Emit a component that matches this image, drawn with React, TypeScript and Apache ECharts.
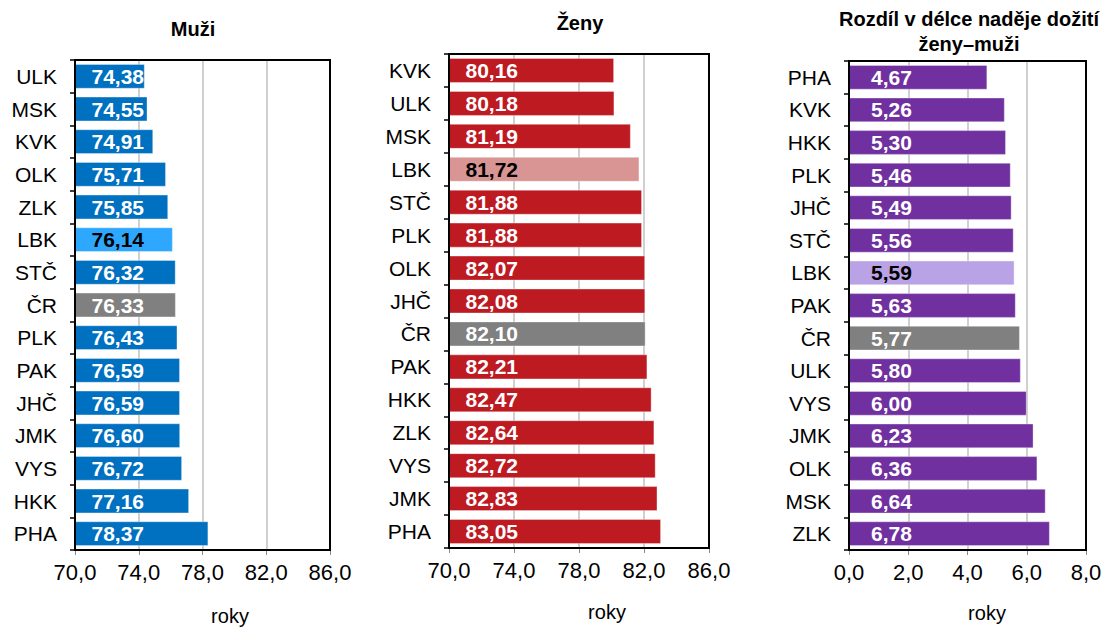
import React, { useEffect, useRef } from "react";
import * as echarts from "echarts";

const menCategories = ["ULK", "MSK", "KVK", "OLK", "ZLK", "LBK", "STČ", "ČR", "PLK", "PAK", "JHČ", "JMK", "VYS", "HKK", "PHA"];
const menValues = [74.38, 74.55, 74.91, 75.71, 75.85, 76.14, 76.32, 76.33, 76.43, 76.59, 76.59, 76.6, 76.72, 77.16, 78.37];

const womenCategories = ["KVK", "ULK", "MSK", "LBK", "STČ", "PLK", "OLK", "JHČ", "ČR", "PAK", "HKK", "ZLK", "VYS", "JMK", "PHA"];
const womenValues = [80.16, 80.18, 81.19, 81.72, 81.88, 81.88, 82.07, 82.08, 82.1, 82.21, 82.47, 82.64, 82.72, 82.83, 83.05];

const diffCategories = ["PHA", "KVK", "HKK", "PLK", "JHČ", "STČ", "LBK", "PAK", "ČR", "ULK", "VYS", "JMK", "OLK", "MSK", "ZLK"];
const diffValues = [4.67, 5.26, 5.3, 5.46, 5.49, 5.56, 5.59, 5.63, 5.77, 5.8, 6.0, 6.23, 6.36, 6.64, 6.78];

const titles = ["Muži", "Ženy", "Rozdíl v délce naděje dožití\nženy–muži"];
const axisName = "roky";

const FONT = "'Liberation Sans', Arial, sans-serif";

export default function App() {
  const ref = useRef<HTMLDivElement>(null);
  useEffect(() => {
    document.body.style.margin = "0";
    if (!ref.current) return;
    const chart = echarts.init(ref.current, null, { renderer: "svg" });

    const grids = [
      { left: 75, top: 60, width: 255, height: 490 },
      { left: 449, top: 54, width: 260, height: 494 },
      { left: 849, top: 61, width: 237, height: 489 },
    ];
    const panels = [
      { cats: menCategories, vals: menValues, main: "#0070C0", hl: "#2EA8FF", min: 70, max: 86, interval: 4, off: 17 },
      { cats: womenCategories, vals: womenValues, main: "#BE1A22", hl: "#D99594", min: 70, max: 86, interval: 4, off: 17 },
      { cats: diffCategories, vals: diffValues, main: "#7030A0", hl: "#B9A3E6", min: 0, max: 8, interval: 2, off: 22 },
    ];

    const option: any = {
      animation: false,
      textStyle: { fontFamily: FONT },
      grid: grids.map((g) => ({ ...g, show: true, borderColor: "#000", borderWidth: 2, backgroundColor: "transparent", z: 5 })),
      xAxis: panels.map((p, i) => ({
        type: "value",
        gridIndex: i,
        min: p.min,
        max: p.max,
        interval: p.interval,
        axisLine: { show: false },
        axisTick: { show: true, length: 5, lineStyle: { color: "#888" } },
        splitLine: { show: true, lineStyle: { color: "#C0C0C0", width: 1.5 } },
        axisLabel: {
          fontSize: 22,
          color: "#000",
          fontFamily: FONT,
          margin: 11,
          formatter: (v: number) => v.toFixed(1).replace(".", ","),
        },
      })),
      yAxis: panels.map((p, i) => ({
        type: "category",
        gridIndex: i,
        inverse: true,
        data: p.cats,
        axisLine: { show: true, lineStyle: { color: "#000", width: 2 } },
        axisTick: { show: true, length: 5, inside: false, lineStyle: { color: "#000", width: 1.5 } },
        axisLabel: { fontSize: 21, color: "#000", fontFamily: FONT, margin: 18 },
      })),
      series: panels.map((p, i) => ({
        type: "bar",
        xAxisIndex: i,
        yAxisIndex: i,
        barCategoryGap: "24%",
        z: 2,
        data: p.vals.map((v, j) => {
          const c = p.cats[j];
          const color = c === "LBK" ? p.hl : c === "ČR" ? "#808080" : p.main;
          return {
            value: v,
            itemStyle: { color, borderColor: "rgba(255,255,255,0.35)", borderWidth: 1 },
            label: { color: c === "LBK" ? "#000" : "#fff" },
          };
        }),
        label: {
          show: true,
          position: [p.off, "50%"],
          align: "left",
          verticalAlign: "middle",
          fontSize: 21,
          fontWeight: "bold",
          fontFamily: FONT,
          formatter: (d: any) => d.value.toFixed(2).replace(".", ","),
        },
      })),
      graphic: [
        { type: "text", x: 193, y: 29, style: { text: titles[0], font: `bold 20px ${FONT}`, fill: "#000", align: "center", verticalAlign: "middle" } },
        { type: "text", x: 580, y: 23, style: { text: titles[1], font: `bold 20px ${FONT}`, fill: "#000", align: "center", verticalAlign: "middle" } },
        { type: "text", x: 969, y: 31, style: { text: titles[2], font: `bold 20px ${FONT}`, lineHeight: 25, fill: "#000", align: "center", verticalAlign: "middle" } },
        { type: "text", x: 230, y: 616, style: { text: axisName, font: `20px ${FONT}`, fill: "#000", align: "center", verticalAlign: "middle" } },
        { type: "text", x: 607, y: 612, style: { text: axisName, font: `20px ${FONT}`, fill: "#000", align: "center", verticalAlign: "middle" } },
        { type: "text", x: 987, y: 613, style: { text: axisName, font: `20px ${FONT}`, fill: "#000", align: "center", verticalAlign: "middle" } },
      ],
    };
    chart.setOption(option);
    return () => chart.dispose();
  }, []);
  return <div ref={ref} style={{ width: 1110, height: 627 }} />;
}
